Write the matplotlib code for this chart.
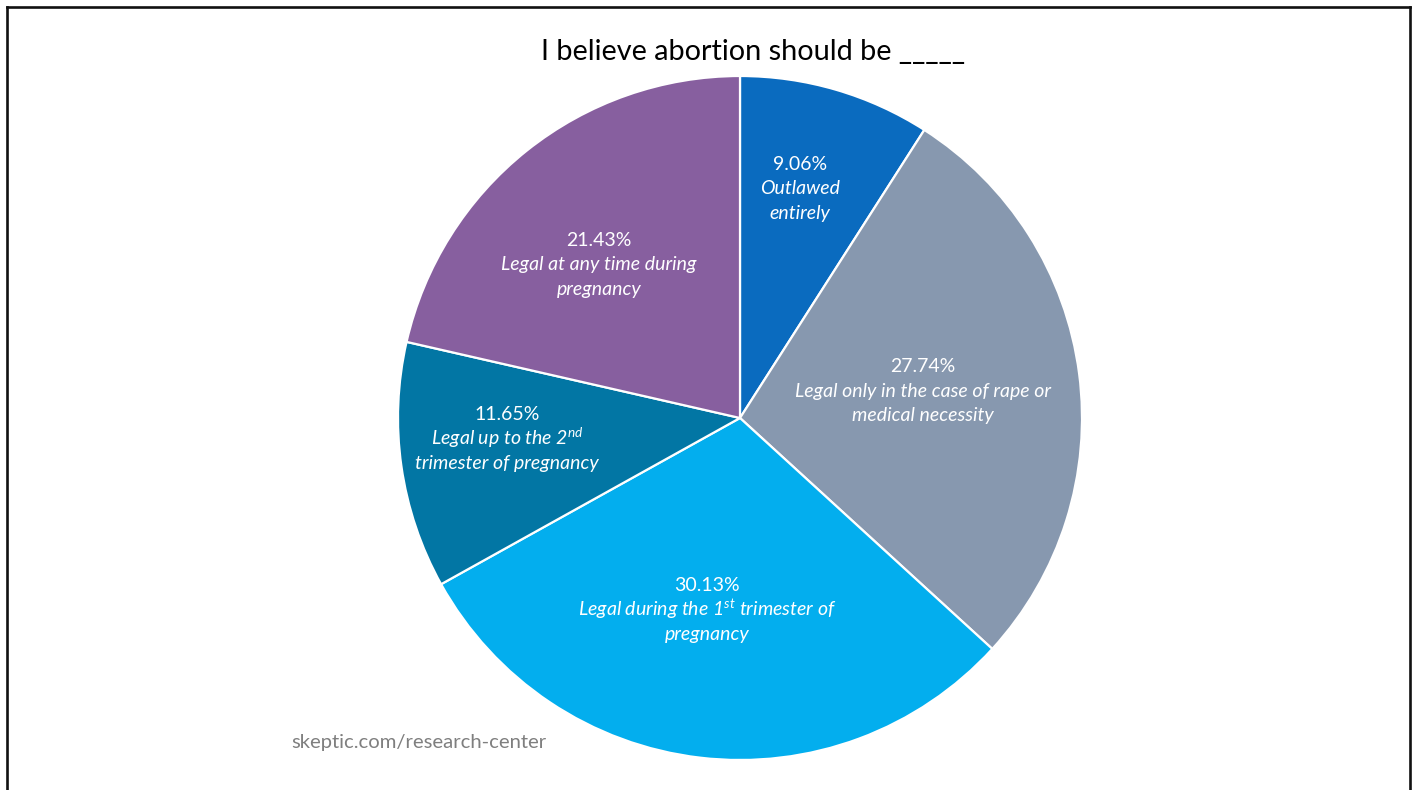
import matplotlib
matplotlib.use("Agg")
import matplotlib.pyplot as plt
from matplotlib.lines import Line2D

plt.rcParams["font.family"] = ["Lato", "DejaVu Sans"]
plt.rcParams["mathtext.fontset"] = "custom"
plt.rcParams["mathtext.it"] = "Lato:italic"
plt.rcParams["mathtext.rm"] = "Lato"

title = "I believe abortion should be _____"
source = "skeptic.com/research-center"

categories = [
    "Outlawed\nentirely",
    "Legal only in the case of rape or\nmedical necessity",
    "Legal during the 1$^{st}$ trimester of\npregnancy",
    "Legal up to the 2$^{nd}$\ntrimester of pregnancy",
    "Legal at any time during\npregnancy",
]
shares = [9.06, 27.74, 30.13, 11.65, 21.43]
colors = ["#0A6BBF", "#8798AF", "#03AEEE", "#0276A4", "#875F9F"]

# label anchor (centre of the middle text line), in pie data units
label_xy = [(0.175, 0.675), (0.535, 0.082), (-0.096, -0.558),
            (-0.681, -0.058), (-0.412, 0.453)]

W, H = 1417, 790
fig = plt.figure(figsize=(W / 100, H / 100), dpi=100)
fig.patch.set_facecolor("white")

R = 342
cx, cy = 740, 418
ax = fig.add_axes([(cx - R) / W, (H - cy - R) / H, 2 * R / W, 2 * R / H])
ax.pie(shares, colors=colors, startangle=90, counterclock=False,
       radius=1.0, wedgeprops=dict(edgecolor="white", linewidth=1.6))
ax.set_xlim(-1, 1)
ax.set_ylim(-1, 1)
ax.set_aspect("equal")
ax.axis("off")

fs = 14
step = 24.5   # line pitch in pixels
drop = 7      # baseline sits below the visual line centre
for cat, val, (x, y) in zip(categories, shares, label_xy):
    line2, line3 = cat.split("\n")
    ax.annotate(f"{val:.2f}%", xy=(x, y), xytext=(0, step - drop),
                textcoords="offset pixels", ha="center", va="baseline",
                color="white", fontsize=fs)
    ax.annotate(line2, xy=(x, y), xytext=(0, -drop),
                textcoords="offset pixels", ha="center", va="baseline",
                color="white", fontsize=fs, style="italic")
    ax.annotate(line3, xy=(x, y), xytext=(0, -step - drop),
                textcoords="offset pixels", ha="center", va="baseline",
                color="white", fontsize=fs, style="italic")

fig.text(753 / W, (H - 60) / H, title, ha="center", va="baseline",
         fontsize=20.8, color="black")
fig.text(291 / W, (H - 748) / H, source, ha="left", va="baseline",
         fontsize=14.6, color="#7f7f7f")

# frame open at the bottom
frame_kw = dict(transform=fig.transFigure, color="#111111", linewidth=1.9)
xl, xr, yt = 6.5 / W, 1410 / W, 1 - 7 / H
fig.add_artist(Line2D([xl, xl], [0, yt], **frame_kw))
fig.add_artist(Line2D([xl, xr], [yt, yt], **frame_kw))
fig.add_artist(Line2D([xr, xr], [0, yt], **frame_kw))

fig.savefig("out.png", dpi=100, facecolor="white")
